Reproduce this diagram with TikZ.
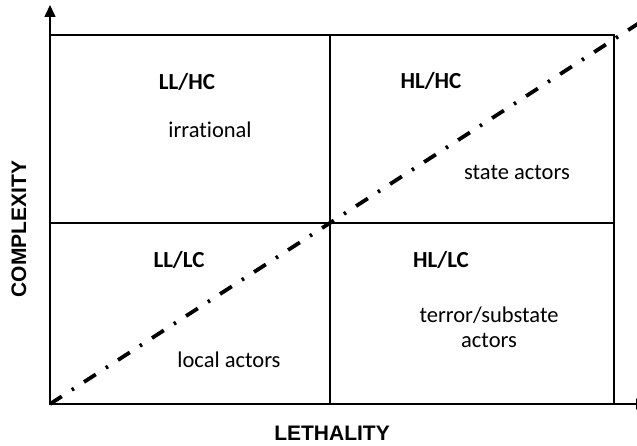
\documentclass[tikz,border=0pt]{standalone}
\usepackage{fontspec}
\setmainfont{Carlito}[Ligatures=NoCommon]
\newfontfamily\axisfont{Liberation Sans}
\usetikzlibrary{
  arrows.meta,   % Triangle arrow tips
  positioning    % relative placement of nodes
}

\begin{document}
\begin{tikzpicture}[x=1pt, y=-1pt, % pixel-like units, y grows downwards
  axis/.style={line width=1.6pt, -{Triangle[length=12pt, width=11pt]}},
  frame/.style={line width=1.6pt},
  trend/.style={line width=3.8pt, dash pattern=on 14pt off 12pt on 2.5pt off 12pt},
  tag/.style={inner sep=0pt, font=\fontsize{23}{27}\selectfont\bfseries},
  note/.style={inner sep=0pt, align=center, font=\fontsize{22.5}{26}\selectfont},
  axislabel/.style={inner sep=0pt, font=\fontsize{21}{24}\selectfont\axisfont\bfseries}]

  \useasboundingbox (0,0) rectangle (637,446);

  % =============== axes ===============
  \coordinate (origin) at (50,404);
  \coordinate (ytip) at (50,5);
  \coordinate (xtip) at (648,404);
  \draw[axis] (origin) -- (ytip);
  \draw[axis] (origin) -- (xtip);

  % =============== quadrant frame ===============
  \draw[frame] (50,35) rectangle (614,404);
  \draw[frame] (330,35) -- (330,404);
  \draw[frame] (50,223) -- (614,223);

  % =============== dash-dot trend line ===============
  \coordinate (trendend) at (650,16);
  \draw[trend] (origin) -- (trendend);

  % =============== quadrant labels ===============
  \node[tag] (llhc) at (187,82) {LL/HC};
  \node[note] (irr) at (210,130) {irrational};

  \node[tag] (hlhc) at (431,81) {HL/HC};
  \node[note] (state) at (517,172) {state actors};

  \node[tag] (lllc) at (179,260) {LL/LC};
  \node[note] (local) at (229,360) {local actors};

  \node[tag] (hllc) at (441,260) {HL/LC};
  \node[note] (terror) at (489,327) {terror/substate\\[-1pt]actors};

  % =============== axis titles ===============
  \node[axislabel] (xlab) at (332,433) {LETHALITY};
  \node[axislabel, rotate=90] (ylab) at (19,229) {COMPLEXITY};
\end{tikzpicture}
\end{document}
